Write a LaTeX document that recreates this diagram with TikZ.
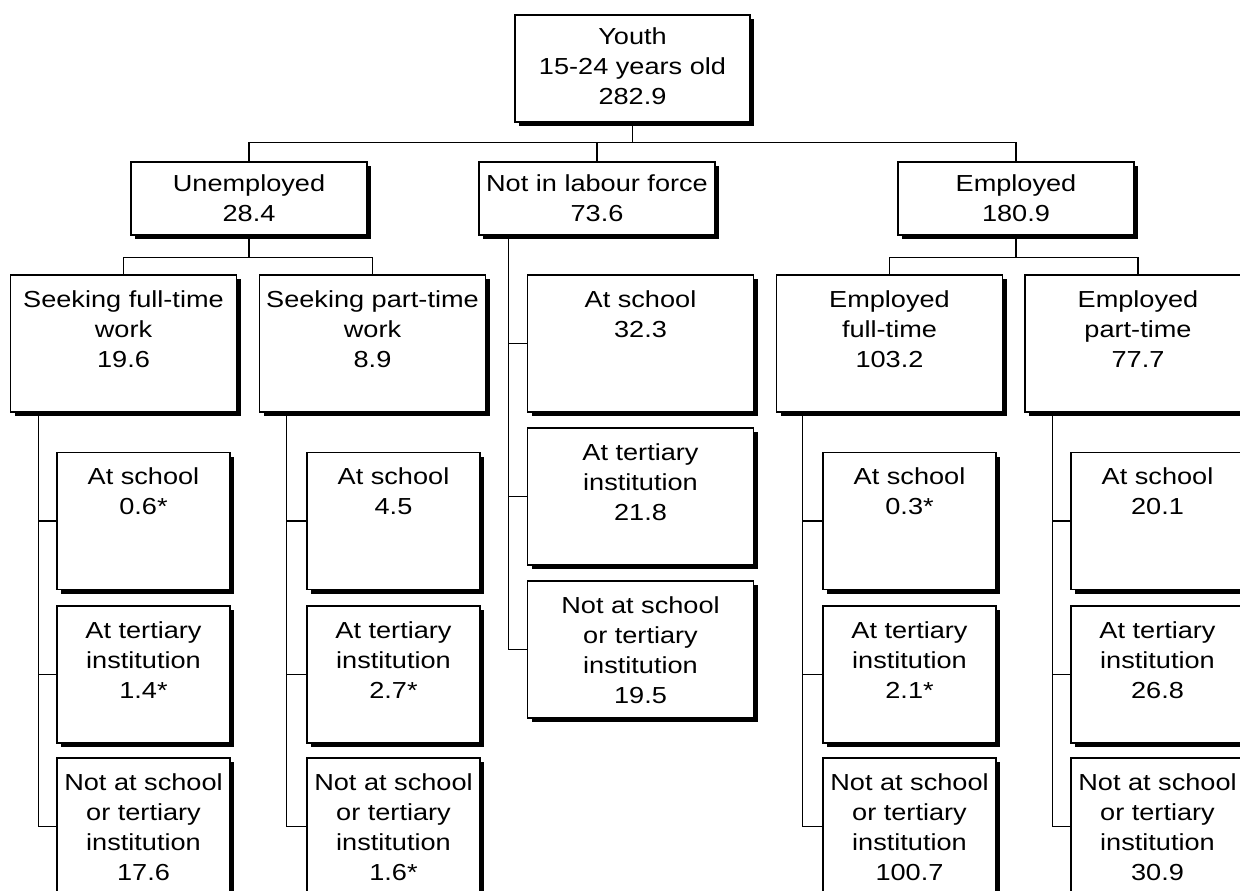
\documentclass[tikz,border=0pt]{standalone}
\usepackage{fontspec}
\newfontfamily\boxfont{Liberation Sans}[FakeStretch=1.17]
\usetikzlibrary{shadows}

\begin{document}
\begin{tikzpicture}[x=0.02cm, y=-0.02cm]
% Estilos
\tikzstyle{box} = [rectangle, draw, line width=0.8pt, fill=white, inner sep=0pt,
    drop shadow={shadow xshift=0.085cm, shadow yshift=-0.085cm, fill=black, opacity=1}]
\tikzstyle{rootbox} = [box, minimum width=4.7cm, minimum height=2.14cm]
\tikzstyle{groupbox} = [box, minimum width=4.72cm, minimum height=1.46cm]
\tikzstyle{subbox} = [box, minimum width=4.52cm, minimum height=2.74cm]
\tikzstyle{leafbox} = [box, minimum width=3.46cm, minimum height=2.74cm]
\tikzstyle{txt} = [anchor=north, align=center, inner sep=0pt, yshift=-0.32cm,
    font=\boxfont\fontsize{13.2pt}{17pt}\selectfont]
\tikzstyle{link} = [line width=0.6pt]

\useasboundingbox (0,0) rectangle (1240,891);
\fill[white] (0,0) rectangle (1240,891);

% Total
\node[rootbox, label={[txt, yshift=0.06cm]north:{Youth\\15-24 years old\\282.9}}] (youth) at (632.5,68.5) {};

% Situacion laboral
\node[groupbox, label={[txt, yshift=0.06cm]north:{Unemployed\\28.4}}] (unemp) at (249,198.5) {};
\node[groupbox, label={[txt, yshift=0.06cm]north:{Not in labour force\\73.6}}] (nlf) at (597,198.5) {};
\node[groupbox, label={[txt, yshift=0.06cm]north:{Employed\\180.9}}] (emp) at (1016,198.5) {};

% Segundo nivel
\node[subbox, label={[txt]north:{Seeking full-time\\work\\19.6}}] (sft) at (123.5,343.5) {};
\node[subbox, label={[txt]north:{Seeking part-time\\work\\8.9}}] (spt) at (372.5,343.5) {};
\node[subbox, label={[txt]north:{Employed\\full-time\\103.2}}] (eft) at (889.5,343.5) {};
\node[subbox, label={[txt]north:{Employed\\part-time\\77.7}}] (ept) at (1138,343.5) {};

% Fuera de la fuerza laboral
\node[subbox, label={[txt]north:{At school\\32.3}}] (nlf1) at (640.5,343.5) {};
\node[subbox, label={[txt]north:{At tertiary\\institution\\21.8}}] (nlf2) at (640.5,496.5) {};
\node[subbox, label={[txt]north:{Not at school\\or tertiary\\institution\\19.5}}] (nlf3) at (640.5,649.5) {};

% Estudios por grupo
\node[leafbox, label={[txt]north:{At school\\0.6*}}] (sft1) at (143.5,521) {};
\node[leafbox, label={[txt]north:{At tertiary\\institution\\1.4*}}] (sft2) at (143.5,674.5) {};
\node[leafbox, label={[txt]north:{Not at school\\or tertiary\\institution\\17.6}}] (sft3) at (143.5,826.5) {};

\node[leafbox, label={[txt]north:{At school\\4.5}}] (spt1) at (393.5,521) {};
\node[leafbox, label={[txt]north:{At tertiary\\institution\\2.7*}}] (spt2) at (393.5,674.5) {};
\node[leafbox, label={[txt]north:{Not at school\\or tertiary\\institution\\1.6*}}] (spt3) at (393.5,826.5) {};

\node[leafbox, label={[txt]north:{At school\\0.3*}}] (eft1) at (909.5,521) {};
\node[leafbox, label={[txt]north:{At tertiary\\institution\\2.1*}}] (eft2) at (909.5,674.5) {};
\node[leafbox, label={[txt]north:{Not at school\\or tertiary\\institution\\100.7}}] (eft3) at (909.5,826.5) {};

\node[leafbox, label={[txt]north:{At school\\20.1}}] (ept1) at (1157.5,521) {};
\node[leafbox, label={[txt]north:{At tertiary\\institution\\26.8}}] (ept2) at (1157.5,674.5) {};
\node[leafbox, label={[txt]north:{Not at school\\or tertiary\\institution\\30.9}}] (ept3) at (1157.5,826.5) {};

% Conexiones
\draw[link] (youth.south) -- ++(0,20) -| (unemp.north);
\draw[link] (youth.south) -- ++(0,20) -| (nlf.north);
\draw[link] (youth.south) -- ++(0,20) -| (emp.north);
\draw[link] (unemp.south) -- ++(0,22) -| (sft.north);
\draw[link] (unemp.south) -- ++(0,22) -| (spt.north);
\draw[link] (emp.south) -- ++(0,22) -| (eft.north);
\draw[link] (emp.south) -- ++(0,22) -| (ept.north);

\draw[link] ([xshift=-0.36cm]nlf1.west |- nlf.south) |- (nlf3.west);
\draw[link] ([xshift=-0.36cm]nlf1.west) -- (nlf1.west);
\draw[link] ([xshift=-0.36cm]nlf2.west) -- (nlf2.west);

\draw[link] ([xshift=-0.36cm]sft1.west |- sft.south) |- (sft3.west);
\draw[link] ([xshift=-0.36cm]sft1.west) -- (sft1.west);
\draw[link] ([xshift=-0.36cm]sft2.west) -- (sft2.west);

\draw[link] ([xshift=-0.4cm]spt1.west |- spt.south) |- (spt3.west);
\draw[link] ([xshift=-0.4cm]spt1.west) -- (spt1.west);
\draw[link] ([xshift=-0.4cm]spt2.west) -- (spt2.west);

\draw[link] ([xshift=-0.4cm]eft1.west |- eft.south) |- (eft3.west);
\draw[link] ([xshift=-0.4cm]eft1.west) -- (eft1.west);
\draw[link] ([xshift=-0.4cm]eft2.west) -- (eft2.west);

\draw[link] ([xshift=-0.36cm]ept1.west |- ept.south) |- (ept3.west);
\draw[link] ([xshift=-0.36cm]ept1.west) -- (ept1.west);
\draw[link] ([xshift=-0.36cm]ept2.west) -- (ept2.west);
\end{tikzpicture}
\end{document}
